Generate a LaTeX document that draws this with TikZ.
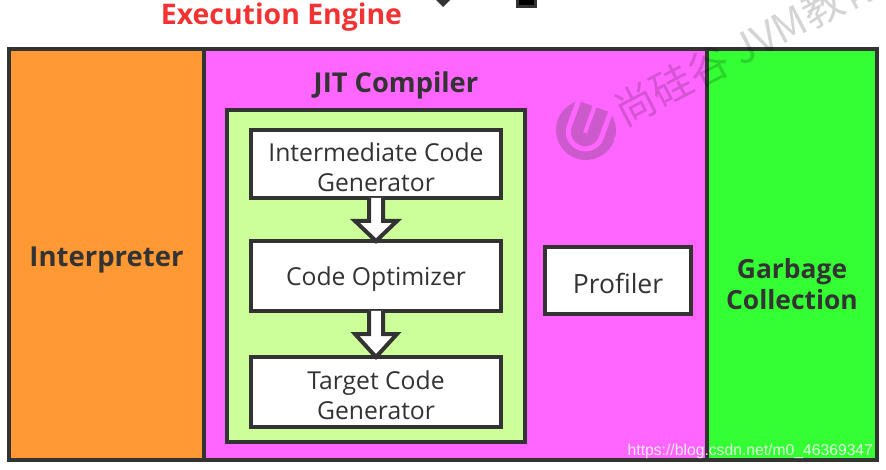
\documentclass[tikz,border=0pt]{standalone}
\usepackage{fontspec}
\setmainfont{Open Sans}
\newfontfamily\cjk{Noto Sans CJK SC}
\newfontfamily\wmfont{Liberation Sans}
\usetikzlibrary{calc}
\definecolor{ink}{HTML}{333333}
\definecolor{orangefill}{HTML}{FF9933}
\definecolor{magentafill}{HTML}{FF66FF}
\definecolor{greenfill}{HTML}{33FF33}
\definecolor{limefill}{HTML}{CCFF99}
\definecolor{titlered}{HTML}{F33333}
\definecolor{markpurple}{HTML}{CC5ACC}
\tikzset{
  x=1pt,y=-1pt,
  panel/.style={draw=ink,line width=4pt,outer sep=0pt,minimum height=411pt,inner sep=0pt,anchor=north west},
  whitebox/.style={draw=ink,line width=4pt,outer sep=0pt,fill=white,inner sep=0pt,anchor=north west},
  boxtext/.style={inner sep=0pt,align=center,text=ink,font=\fontsize{24.7}{30}\selectfont},
  blockarrow/.style={draw=ink,line width=4pt,fill=white,line join=miter},
  boldlabel/.style={font=\fontsize{27.5}{32}\selectfont\bfseries,text=ink,align=center},
}
\newcommand{\flowarrow}[2]{%
  \draw[blockarrow] ($(#1.south)+(-7,0)$) -- ($(#1.south)+(-7,23)$) -- ($(#1.south)+(-21,23)$)
    -- (#2.north) -- ($(#1.south)+(21,23)$) -- ($(#1.south)+(7,23)$) -- ($(#1.south)+(7,0)$);
}
\begin{document}
\begin{tikzpicture}
\useasboundingbox (0,0) rectangle (886,470);
\clip (0,0) rectangle (886,470);
% clipped shapes at the top
\fill[ink] (434,-4) -- (452,-4) -- (452,-2) -- (443,7) -- (434,-2) -- cycle;
\draw[ink,line width=3pt,fill=black] (517,-4) rectangle (535.5,6.5);
\node[font=\fontsize{28.4}{32}\selectfont\bfseries,text=titlered] (title) at (281.5,17) {Execution Engine};
% panels
\node[panel,fill=orangefill,minimum width=195pt] (interp) at (9,49) {};
\node[panel,fill=magentafill,minimum width=503pt] (jit) at (204,49) {};
\node[panel,fill=greenfill,minimum width=170pt] (gc) at (707,49) {};
\node[boldlabel] (interplabel) at (106.5,260) {Interpreter};
\node[font=\fontsize{26.4}{31.5}\selectfont\bfseries,text=ink,align=center] (gclabel) at (792,284) {Garbage\\Collection};
\node[font=\fontsize{27.3}{30}\selectfont\bfseries,text=ink] (jitlabel) at (396,85) {JIT Compiler};
% green container
\node[draw=ink,line width=4pt,outer sep=0pt,fill=limefill,minimum width=298pt,minimum height=332pt,inner sep=0pt,anchor=north west] (group) at (227,110) {};
\node[whitebox,minimum width=250pt,minimum height=68pt] (icg) at (251,130) {};
\node[whitebox,minimum width=250pt,minimum height=70pt] (opt) at (251,241) {};
\node[whitebox,minimum width=250pt,minimum height=70pt] (tcg) at (251,357) {};
\node[whitebox,minimum width=146pt,minimum height=67pt] (prof) at (545,247) {};
\node[boxtext] (icgtext) at ($(icg.center)+(0,3)$) {Intermediate Code\\Generator};
\node[boxtext] (opttext) at ($(opt.center)+(0,3)$) {Code Optimizer};
\node[boxtext] (tcgtext) at ($(tcg.center)+(0,3)$) {Target Code\\Generator};
\node[boxtext,font=\fontsize{26.5}{30}\selectfont] (proftext) at ($(prof.center)+(0,3)$) {Profiler};
\flowarrow{icg}{opt}
\flowarrow{opt}{tcg}
% watermark
\begin{scope}[shift={(586,130)},rotate=-20]
  \begin{scope}
    \clip (0,0) circle (30);
    \fill[markpurple] (0,0) circle (30);
    \draw[magentafill,line width=5pt] (-17,-32) -- (-17,2) arc[start angle=180,end angle=0,radius=17] -- (17,-32);
    \fill[magentafill] (-31,-32) rectangle (31,-25);
    \draw[magentafill,line width=4pt] (0,-32) -- (0,3);
  \end{scope}
\end{scope}
\node[rotate=27.5,anchor=west,text=black,opacity=.17,font=\fontsize{41}{50}\selectfont\cjk] (wm) at (614,115) {尚硅谷 JVM教育};
\node[anchor=east,text=white,opacity=.85,font=\fontsize{15.7}{18}\selectfont\wmfont] (url) at (876.5,451) {https://blog.csdn.net/m0\_46369347};
\end{tikzpicture}
\end{document}
